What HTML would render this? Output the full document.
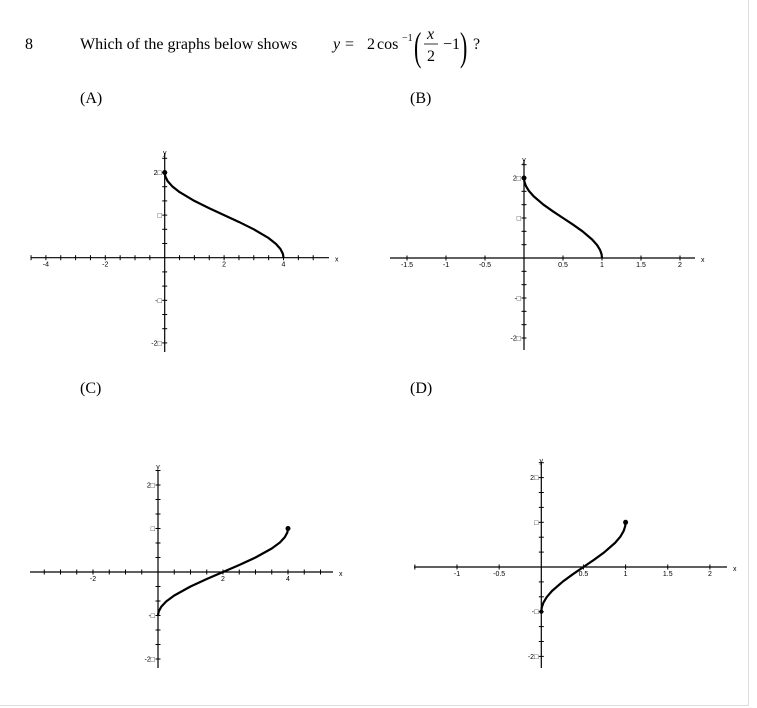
<!DOCTYPE html>
<html><head><meta charset="utf-8"><style>
body{margin:0;background:#fff;}
svg{display:block;font-family:"Liberation Serif",serif;}
.t{font-size:16px;fill:#000}
.tk{font-family:"Liberation Sans",sans-serif;font-size:7px;fill:#000}
</style></head><body>
<svg id="s" width="757" height="708" viewBox="0 0 757 708">
<line x1="748.5" y1="0" x2="748.5" y2="706" stroke="#ddd"/>
<line x1="0" y1="705.5" x2="749" y2="705.5" stroke="#ddd"/>
<text class="t" x="25" y="49">8</text>
<text class="t" x="80" y="49">Which of the graphs below shows</text>
<g>
<text class="t" x="333" y="49" font-style="italic">y</text>
<text class="t" x="345" y="49">=</text>
<text class="t" x="367" y="49">2</text>
<text class="t" x="377" y="49">cos</text>
<text x="402" y="41" font-size="10" font-family="Liberation Serif,serif">−1</text>
<text x="0" y="0" font-size="40" font-family="Liberation Serif,serif" transform="translate(414,60) scale(0.55,1)">(</text>
<text class="t" x="427" y="39" font-style="italic">x</text>
<line x1="424" y1="44" x2="438" y2="44" stroke="#000" stroke-width="0.8"/>
<text class="t" x="427" y="61">2</text>
<text class="t" x="443" y="49">−1</text>
<text x="0" y="0" font-size="40" font-family="Liberation Serif,serif" transform="translate(460,60) scale(0.55,1)">)</text>
<text class="t" x="473" y="49">?</text>
</g>
<text class="t" x="80" y="103">(A)</text>
<text class="t" x="410" y="103">(B)</text>
<text class="t" x="80" y="393">(C)</text>
<text class="t" x="410" y="393">(D)</text>
</svg>
<script>
// Curve data: x sample positions per graph, y in units of pi
const xsA=[0,0.02,0.1,0.25,0.5,1,1.5,2,2.5,3,3.5,3.75,3.9,3.98,4];
const xsB=[0,0.005,0.025,0.0625,0.125,0.25,0.375,0.5,0.625,0.75,0.875,0.9375,0.975,0.995,1];
const xsC=[0,0.02,0.1,0.25,0.5,1,1.5,2,2.5,3,3.5,3.75,3.9,3.98,4];
const xsD=[0,0.005,0.025,0.0625,0.125,0.25,0.375,0.5,0.625,0.75,0.875,0.9375,0.975,0.995,1];
const xTicksA=[-4,-2,2,4];
const xTicksB=[-1.5,-1,-0.5,0.5,1,1.5,2];
const xTicksC=[-2,2,4];
const xTicksD=[-1,-0.5,0.5,1,1.5,2];
const yTickLabels=["2□","□","-□","-2□"];
const yTickVals=[2,1,-1,-2];
// y(x) in units of pi
function fA(x){return 2*Math.acos(x/2-1)/Math.PI;}
function fB(x){return 2*Math.acos(2*x-1)/Math.PI;}
function fC(x){return 2*Math.asin(x/2-1)/Math.PI;}
function fD(x){return 2*Math.asin(2*x-1)/Math.PI;}
const graphs=[
 {n:'a',ox:164.7,oy:257.7,sx:29.7,sy:42.6,x0:31,x1:329,y0:153,y1:352,minor:0.5,ticks:xTicksA,xs:xsA,f:fA,ylab:155,start:true},
 {n:'b',ox:524,oy:258,sx:78,sy:40,x0:390,x1:695,y0:160,y1:350,minor:0.5,ticks:xTicksB,xs:xsB,f:fB,ylab:162,start:true},
 {n:'c',ox:158,oy:572,sx:32.5,sy:43.5,x0:30,x1:333,y0:470,y1:668,minor:0.5,ticks:xTicksC,xs:xsC,f:fC,ylab:469,start:false},
 {n:'d',ox:541.3,oy:567,sx:84.3,sy:44.7,x0:414,x1:727,y0:462,y1:668,minor:0.5,ticks:xTicksD,xs:xsD,f:fD,ylab:463,start:false}
];
const NS='http://www.w3.org/2000/svg';
const svg=document.getElementById('s');
function mk(tag,attrs,parent){const e=document.createElementNS(NS,tag);for(const k in attrs)e.setAttribute(k,attrs[k]);parent.appendChild(e);return e;}
graphs.forEach(g=>{
 const grp=mk('g',{},svg);
 
 
 const X=v=>g.ox+v*g.sx, Y=v=>g.oy-v*g.sy;
 const xa=mk('line',{x1:g.x0,y1:g.oy,x2:g.x1,y2:g.oy,stroke:'#000','stroke-width':1.2},grp);
 
 
 const ya=mk('line',{x1:g.ox,y1:g.y0,x2:g.ox,y2:g.y1,stroke:'#000','stroke-width':1.2},grp);
 
 
 const lo=Math.ceil((g.x0-g.ox)/g.sx/g.minor), hi=Math.floor((g.x1-4-g.ox)/g.sx/g.minor);
 for(let i=lo;i<=hi;i++){ if(i===0)continue; const px=X(i*g.minor);
  mk('line',{x1:px,y1:g.oy-2.5,x2:px,y2:g.oy+2.5,stroke:'#000','stroke-width':1},grp);}
 g.ticks.forEach(v=>{const t=mk('text',{x:X(v),y:g.oy+9,'text-anchor':'middle',class:'tk'},grp);t.textContent=String(v);
  
  });
 for(let k=-7;k<=7;k++){ if(k===0)continue; const py=Y(k/3); if(py<g.y0||py>g.y1)continue;
  mk('line',{x1:g.ox-2.5,y1:py,x2:g.ox+2.5,y2:py,stroke:'#000','stroke-width':1},grp);}
 yTickVals.forEach((v,i)=>{const t=mk('text',{x:g.ox-3,y:Y(v)+2.5,'text-anchor':'end',class:'tk'},grp);t.textContent=yTickLabels[i];
  
  });
 const xl=mk('text',{x:g.x1+6,y:g.oy+4,class:'tk'},grp);xl.textContent='x';
 
 
 const yl=mk('text',{x:g.ox,y:g.ylab,'text-anchor':'middle',class:'tk'},grp);yl.textContent='y';
 
 
 const d=g.xs.map((v,i)=>(i?'L':'M')+X(v).toFixed(2)+' '+Y(g.f(v)).toFixed(2)).join(' ');
 const p=mk('path',{d:d,fill:'none',stroke:'#000','stroke-width':2.2,'stroke-linejoin':'round'},grp);
 
 
 const xe=g.xs[0], xf=g.xs[g.xs.length-1];
 const endX=g.start?xe:xf;
 const dot=mk('circle',{cx:X(endX),cy:Y(g.f(endX)),r:2.5,fill:'#000'},grp);
 
 
 if(g.n==='d'){const d2=mk('circle',{cx:X(xe),cy:Y(g.f(xe)),r:2,fill:'#000'},grp);
  
  }
});
</script>
</body></html>
